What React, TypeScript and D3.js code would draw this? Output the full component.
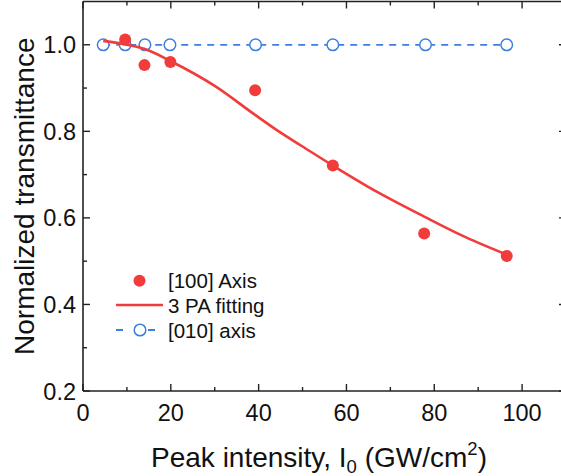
import React from "react";
import * as d3 from "d3";

const W = 561;
const H = 476;

const axisXPoints = [9.6, 14.0, 19.9, 39.2, 56.9, 77.7, 96.5];
const axisYPoints = [1.012, 0.953, 0.960, 0.895, 0.721, 0.564, 0.512];

const fitX = [4.6, 10, 14.1, 20, 30, 39.2, 45, 50, 56.9, 67, 77.7, 87, 96.5];
const fitY = [1.009, 1.0, 0.99, 0.962, 0.905, 0.838, 0.797, 0.765, 0.721, 0.66, 0.603, 0.556, 0.515];

const perpX = [4.6, 9.6, 14.1, 19.8, 39.3, 56.9, 78.0, 96.5];
const perpY = [1.0, 1.0, 1.0, 1.0, 1.0, 1.0, 1.0, 1.0];

const xMajor = [0, 20, 40, 60, 80, 100];
const xMinor = [10, 30, 50, 70, 90];
const yMajor = [0.2, 0.4, 0.6, 0.8, 1.0];
const yMinor = [0.3, 0.5, 0.7, 0.9];

const legendLabels = ["[100] Axis", "3 PA fitting", "[010] axis"];

const RED = "#f23c3c";
const BLUE = "#3d7fe0";
const AX = "#222";
const FONT = "Liberation Sans, Arial, sans-serif";

export default function App() {
  const left = 83;
  const right = 566;
  const top = 1.5;
  const bottom = 391;
  const x = d3.scaleLinear().domain([0, 110]).range([left, right]);
  const y = d3.scaleLinear().domain([0.2, 1.1]).range([bottom, top]);

  const fitLine = d3
    .line<number>()
    .x((_, i) => x(fitX[i]))
    .y((d) => y(d))
    .curve(d3.curveMonotoneX)(fitY) as string;

  const perpLine = d3
    .line<number>()
    .x((_, i) => x(perpX[i]))
    .y((d) => y(d))(perpY) as string;

  const lx = 116;
  const ly = [280.7, 305, 330];

  return (
    <svg
      width={W}
      height={H}
      style={{ position: "absolute", left: 0, top: 0, background: "#fff" }}
      fontFamily={FONT}
    >
      <rect width={W} height={H} fill="#fff" />
      <line x1={left} x2={right} y1={bottom} y2={bottom} stroke={AX} strokeWidth={1.6} />
      <line x1={left} x2={right} y1={top} y2={top} stroke={AX} strokeWidth={1.6} />
      <line x1={left} x2={left} y1={top} y2={bottom} stroke={AX} strokeWidth={1.6} />
      <line x1={right} x2={right} y1={top} y2={bottom} stroke={AX} strokeWidth={1.6} />
      {xMajor.map((v) => (
        <g key={"xm" + v}>
          <line x1={x(v)} x2={x(v)} y1={bottom} y2={bottom - 7} stroke={AX} strokeWidth={1.4} />
          <line x1={x(v)} x2={x(v)} y1={top} y2={top + 7} stroke={AX} strokeWidth={1.4} />
          <text x={x(v)} y={420.5} fontSize={23.5} textAnchor="middle" fill="#111">
            {v}
          </text>
        </g>
      ))}
      {xMinor.map((v) => (
        <g key={"xn" + v}>
          <line x1={x(v)} x2={x(v)} y1={bottom} y2={bottom - 4} stroke={AX} strokeWidth={1.4} />
          <line x1={x(v)} x2={x(v)} y1={top} y2={top + 4} stroke={AX} strokeWidth={1.4} />
        </g>
      ))}
      {yMajor.map((v) => (
        <g key={"ym" + v}>
          <line x1={left} x2={left + 7} y1={y(v)} y2={y(v)} stroke={AX} strokeWidth={1.4} />
          <line x1={right} x2={right - 7} y1={y(v)} y2={y(v)} stroke={AX} strokeWidth={1.4} />
          <text x={76} y={y(v) + 8.5} fontSize={23.5} textAnchor="end" fill="#111">
            {v.toFixed(1)}
          </text>
        </g>
      ))}
      {yMinor.map((v) => (
        <g key={"yn" + v}>
          <line x1={left} x2={left + 4} y1={y(v)} y2={y(v)} stroke={AX} strokeWidth={1.4} />
          <line x1={right} x2={right - 4} y1={y(v)} y2={y(v)} stroke={AX} strokeWidth={1.4} />
        </g>
      ))}

      <path d={perpLine} fill="none" stroke={BLUE} strokeWidth={1.8} strokeDasharray="7,6" />
      {perpX.map((v, i) => (
        <circle key={"p" + i} cx={x(v)} cy={y(perpY[i])} r={5.8} fill="#fff" stroke={BLUE} strokeWidth={1.5} />
      ))}
      <path d={fitLine} fill="none" stroke={RED} strokeWidth={2.6} />
      {axisXPoints.map((v, i) => (
        <circle key={"a" + i} cx={x(v)} cy={y(axisYPoints[i])} r={6} fill={RED} />
      ))}

      <circle cx={lx + 23.5} cy={ly[0]} r={6} fill={RED} />
      <line x1={lx} x2={lx + 47} y1={ly[1]} y2={ly[1]} stroke={RED} strokeWidth={2.6} />
      <line x1={lx} x2={lx + 40} y1={ly[2]} y2={ly[2]} stroke={BLUE} strokeWidth={1.8} strokeDasharray="7,25" />
      <circle cx={lx + 24} cy={ly[2]} r={5.8} fill="#fff" stroke={BLUE} strokeWidth={1.5} />
      {legendLabels.map((t, i) => (
        <text key={t} x={168} y={ly[i] + 7.5} fontSize={20.5} fill="#111">
          {t}
        </text>
      ))}

      <text
        transform={`translate(34,${(top + bottom) / 2}) rotate(-90)`}
        fontSize={28}
        textAnchor="middle"
        fill="#111"
      >
        Normalized transmittance
      </text>
      <text x={319} y={467} fontSize={28} textAnchor="middle" fill="#111">
        Peak intensity, I<tspan fontSize={18.5} dy={6}>0</tspan>
        <tspan dy={-6}> (GW/cm</tspan>
        <tspan fontSize={18.5} dy={-12}>2</tspan>
        <tspan dy={12}>)</tspan>
      </text>
    </svg>
  );
}
